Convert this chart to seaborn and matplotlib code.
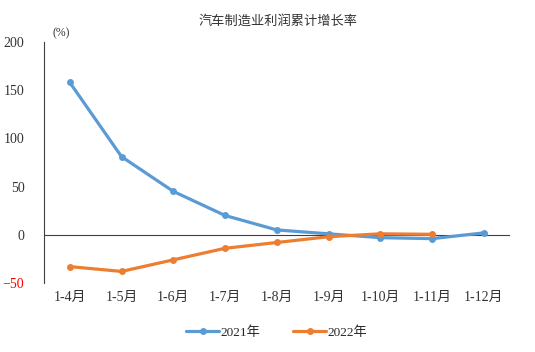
import matplotlib
matplotlib.use("Agg")
import matplotlib.pyplot as plt
import numpy as np
import pandas as pd
import seaborn as sns

months = ["1-4月", "1-5月", "1-6月", "1-7月", "1-8月", "1-9月", "1-10月", "1-11月", "1-12月"]
y2021 = [158, 81, 45, 20, 5, 1, -3, -4, 2]
y2022 = [-33, -38, -26, -14, -8, -2, 1, 0.5, np.nan]

sns.set_style("white")
plt.rcParams['font.family'] = ['Liberation Serif', 'Noto Sans CJK SC', 'DejaVu Sans']

df = pd.DataFrame({
    "month": months * 2,
    "value": y2021 + y2022,
    "year": ["2021年"] * len(months) + ["2022年"] * len(months),
})

fig = plt.figure(figsize=(5.35, 3.52), dpi=100)
ax = fig.add_axes([0.082, 0.196, 0.871, 0.685])
sns.lineplot(data=df, x="month", y="value", hue="year", sort=False,
             palette={"2021年": "#5B9BD5", "2022年": "#ED7D31"},
             marker="o", markersize=5, markeredgewidth=0, linewidth=2.3, ax=ax)

ax.axhline(0, color="#404040", linewidth=0.8, zorder=0)
ax.set_xlim(-0.5, 8.5)
ax.set_ylim(-50, 200)
ax.set_yticks([-50, 0, 50, 100, 150, 200])
ax.set_xlabel("")
ax.set_ylabel("")
for s in ["top", "right", "bottom"]:
    ax.spines[s].set_visible(False)
ax.spines["left"].set_color("#404040")
ax.spines["left"].set_linewidth(0.8)
ax.tick_params(axis="both", length=0, labelsize=10, colors="#333333")
ax.tick_params(axis="y", pad=14)
ax.tick_params(axis="x", pad=6)
ax.get_yticklabels()[0].set_color("red")

fig.text(0.52, 0.94, "汽车制造业利润累计增长率", ha="center", va="center", fontsize=9.5, color="#333333")
fig.text(0.115, 0.905, "(%)", ha="center", va="center", fontsize=8.5, color="#333333")

ax.legend(loc="upper center", bbox_to_anchor=(0.5, -0.13), ncol=2, frameon=False,
          fontsize=9.5, handlelength=2.5, columnspacing=2.5, handletextpad=0.1)

fig.savefig("out.png", dpi=100)
